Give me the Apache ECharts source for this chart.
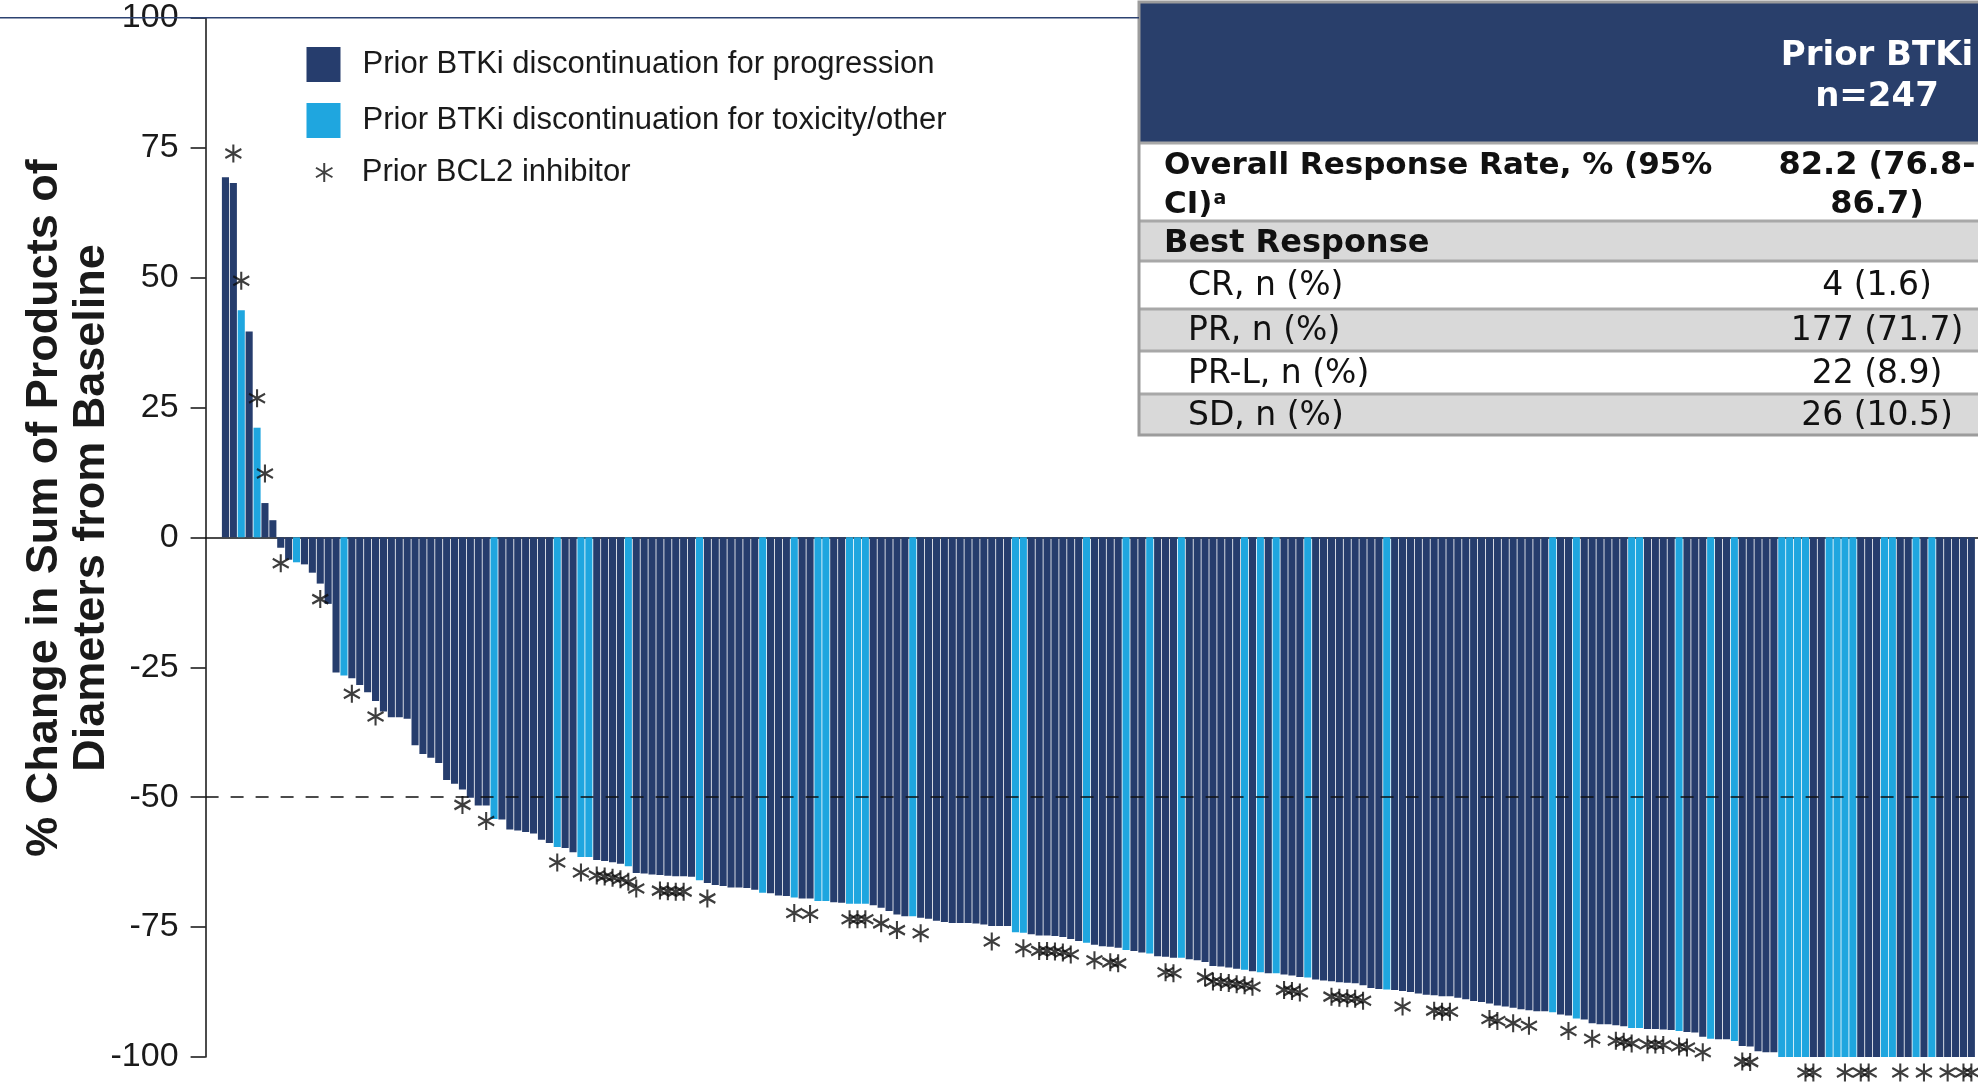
<!DOCTYPE html>
<html>
<head>
<meta charset="utf-8">
<script src="https://cdn.jsdelivr.net/npm/echarts@6/dist/echarts.min.js"></script>
<style>
html,body{margin:0;padding:0;background:#ffffff;}
#chart{width:1978px;height:1085px;}
</style>
</head>
<body>
<div id="chart"></div>
<script>
// ---- Data (one entry per patient, sorted waterfall order) ----
const changeFromBaseline = [
  69.3, 68.2, 43.7, 39.6, 21.1, 6.6, 3.3, -2.0, -4.3, -4.8,
  -5.2, -6.8, -8.9, -12.8, -26.0, -26.6, -27.1, -28.4, -29.8, -31.5,
  -33.5, -34.6, -34.6, -34.9, -40.0, -41.7, -42.4, -43.4, -46.7, -47.4,
  -48.5, -50.1, -51.6, -51.6, -54.2, -54.3, -56.2, -56.4, -56.7, -57.0,
  -58.2, -58.8, -59.6, -59.8, -60.6, -61.5, -61.5, -62.1, -62.3, -62.5,
  -62.8, -63.3, -64.6, -64.7, -64.9, -65.0, -65.1, -65.2, -65.2, -65.3,
  -66.0, -66.5, -66.9, -67.1, -67.4, -67.4, -67.5, -67.8, -68.4, -68.5,
  -68.9, -69.0, -69.3, -69.5, -69.5, -70.0, -70.0, -70.2, -70.3, -70.5,
  -70.5, -70.5, -70.8, -71.3, -71.9, -72.6, -72.9, -72.9, -73.2, -73.4,
  -73.8, -74.0, -74.2, -74.2, -74.2, -74.3, -74.5, -74.8, -74.8, -74.8,
  -76.0, -76.1, -76.4, -76.6, -76.6, -76.7, -76.9, -77.3, -77.7, -78.0,
  -78.4, -78.7, -78.8, -79.0, -79.4, -79.6, -79.9, -80.1, -80.6, -80.7,
  -80.9, -80.9, -81.2, -81.4, -81.7, -82.5, -82.6, -82.8, -83.0, -83.2,
  -83.5, -83.7, -83.9, -83.9, -84.1, -84.3, -84.6, -84.7, -85.1, -85.3,
  -85.4, -85.6, -85.7, -85.8, -86.2, -86.7, -86.9, -87.0, -87.1, -87.3,
  -87.5, -87.8, -88.0, -88.1, -88.3, -88.3, -88.6, -88.9, -89.2, -89.4,
  -89.7, -90.1, -90.3, -90.5, -90.8, -91.0, -91.2, -91.2, -91.4, -91.8,
  -92.0, -92.6, -92.8, -93.5, -93.7, -93.7, -93.9, -94.1, -94.4, -94.4,
  -94.6, -94.6, -94.7, -94.8, -95.0, -95.2, -95.3, -96.1, -96.5, -96.6,
  -96.6, -96.9, -97.9, -98.0, -98.9, -99.1, -99.1, -100, -100, -100,
  -100, -100, -100, -100, -100, -100, -100, -100, -100, -100,
  -100, -100, -100, -100, -100, -100, -100, -100, -100, -100,
  -100, -100
];

// P = discontinuation for progression, T = discontinuation for toxicity/other
const discontinuationReason = [
  'P','P','T','P','T','P','P','P','P','T',
  'P','P','P','P','P','T','P','P','P','P',
  'P','P','P','P','P','P','P','P','P','P',
  'P','P','P','P','T','P','P','P','P','P',
  'P','P','T','P','P','T','T','P','P','P',
  'P','T','P','P','P','P','P','P','P','P',
  'T','P','P','P','P','P','P','P','T','P',
  'P','P','T','P','P','T','T','P','P','T',
  'T','T','P','P','P','P','P','T','P','P',
  'P','P','P','P','P','P','P','P','P','P',
  'T','T','P','P','P','P','P','P','P','T',
  'P','P','P','P','T','P','P','T','P','P',
  'P','T','P','P','P','P','P','P','P','T',
  'P','T','P','T','P','P','P','T','P','P',
  'P','P','P','P','P','P','P','T','P','P',
  'P','P','P','P','P','P','P','P','P','P',
  'P','P','P','P','P','P','P','P','T','P',
  'P','T','P','P','P','P','P','P','T','T',
  'P','P','P','P','T','P','P','P','T','P',
  'P','T','P','P','P','P','P','T','T','T',
  'T','P','P','T','T','T','T','P','P','P',
  'T','T','P','P','T','P','T','P','P','P',
  'P','P'
];

// 1-based positions of patients with a prior BCL2 inhibitor (asterisks)
const priorBcl2Patients = [
  2, 3, 5, 6, 8, 13, 17, 20, 31, 34, 43, 46, 48, 49, 50, 51, 52, 53, 56, 57,
  58, 59, 62, 73, 75, 80, 81, 82, 84, 86, 89, 98, 102, 104, 105, 106, 107, 108, 111, 113,
  114, 120, 121, 125, 126, 127, 128, 129, 130, 131, 135, 136, 137, 141, 142, 143, 144, 145, 150, 154,
  155, 156, 161, 162, 164, 166, 171, 174, 177, 178, 179, 181, 182, 183, 185, 186, 188, 193, 194, 201,
  202, 206, 208, 209, 213, 216, 219, 221, 222
];

const yTickMin = -100, yTickMax = 100, yTickStep = 25;
const responseThreshold = -50;

const seriesNames = [
  'Prior BTKi discontinuation for progression',
  'Prior BTKi discontinuation for toxicity/other',
  'Prior BCL2 inhibitor'
];
const yAxisTitle = ['% Change in Sum of Products of', 'Diameters from Baseline'];

const tableHeader = ['Prior BTKi', 'n=247'];
const tableLabels = ['Overall Response Rate, % (95%', 'Best Response', 'CR, n (%)', 'PR, n (%)', 'PR-L, n (%)', 'SD, n (%)'];
const tableValues = [['82.2 (76.8-', '86.7)'], [], ['4 (1.6)'], ['177 (71.7)'], ['22 (8.9)'], ['26 (10.5)']];

// ---- Styles ----
const DARK = '#263d6d';
const LIGHT = '#1fa6df';
const NAVY = '#293f6b';
const ASTERISK = 'path://M10,0 L10,20 M1.34,5 L18.66,15 M1.34,15 L18.66,5';

const darkData = [], lightData = [];
changeFromBaseline.forEach(function (v, i) {
  if (discontinuationReason[i] === 'T') lightData.push([i, v]);
  else darkData.push([i, v]);
});
const bclData = priorBcl2Patients.map(function (p) {
  const v = changeFromBaseline[p - 1];
  return { value: [p - 1, v], symbolOffset: [0, v > 0 ? -29.5 : 15.5] };
});

// ---- Table (graphic) ----
const tX = 1139, tR = 1992, valCX = 1877;
const rowEdges = [3, 143, 221, 261, 309, 351, 394, 435];
const rowFills = [NAVY, '#ffffff', '#d9d9d9', '#ffffff', '#d9d9d9', '#ffffff', '#d9d9d9'];
const tableEls = [];
for (let r = 0; r < rowFills.length; r++) {
  tableEls.push({ type: 'rect', shape: { x: tX, y: rowEdges[r], width: tR - tX, height: rowEdges[r + 1] - rowEdges[r] }, style: { fill: rowFills[r] } });
}
for (let r = 1; r < rowEdges.length - 1; r++) {
  tableEls.push({ type: 'line', shape: { x1: tX, y1: rowEdges[r], x2: tR, y2: rowEdges[r] }, style: { stroke: '#a8a8a8', lineWidth: 3 } });
}
tableEls.push({ type: 'rect', shape: { x: tX, y: 2, width: tR - tX, height: 433 }, style: { fill: 'none', stroke: '#9c9c9c', lineWidth: 3 } });
const FONT = '"DejaVu Sans", Verdana, sans-serif';
tableEls.push({ type: 'text', x: valCX, y: 56, style: { text: tableHeader[0], fill: '#fff', font: 'bold 34px ' + FONT, align: 'center', verticalAlign: 'middle' } });
tableEls.push({ type: 'text', x: valCX, y: 97, style: { text: tableHeader[1], fill: '#fff', font: 'bold 34px ' + FONT, align: 'center', verticalAlign: 'middle' } });
// ORR row
tableEls.push({ type: 'text', x: 1164, y: 166, style: { text: tableLabels[0], fill: '#111', font: 'bold 31px ' + FONT, align: 'left', verticalAlign: 'middle' } });
tableEls.push({ type: 'text', x: 1164, y: 205, style: { text: '{m|CI)}{s|a}', fill: '#111', align: 'left', verticalAlign: 'middle',
  rich: { m: { font: 'bold 31px ' + FONT, fill: '#111' }, s: { font: 'bold 19px ' + FONT, fill: '#111', verticalAlign: 'top', padding: [0, 0, 12, 1] } } } });
tableEls.push({ type: 'text', x: valCX, y: 166, style: { text: tableValues[0][0], fill: '#111', font: 'bold 32px ' + FONT, align: 'center', verticalAlign: 'middle' } });
tableEls.push({ type: 'text', x: valCX, y: 205, style: { text: tableValues[0][1], fill: '#111', font: 'bold 32px ' + FONT, align: 'center', verticalAlign: 'middle' } });
// Best response
tableEls.push({ type: 'text', x: 1164, y: 244, style: { text: tableLabels[1], fill: '#111', font: 'bold 32px ' + FONT, align: 'left', verticalAlign: 'middle' } });
const rowCenters = [286, 331, 374, 416];
for (let k = 0; k < 4; k++) {
  tableEls.push({ type: 'text', x: 1188, y: rowCenters[k], style: { text: tableLabels[k + 2], fill: '#111', font: '33px ' + FONT, align: 'left', verticalAlign: 'middle' } });
  tableEls.push({ type: 'text', x: valCX, y: rowCenters[k], style: { text: tableValues[k + 2][0], fill: '#111', font: '33px ' + FONT, align: 'center', verticalAlign: 'middle' } });
}

const chart = echarts.init(document.getElementById('chart'), null, { renderer: 'canvas' });
const AX = '#111111';
const option = {
  animation: false,
  backgroundColor: '#ffffff',
  grid: { left: 205.6, right: 0, top: 17.7, bottom: 28, containLabel: false, outerBoundsMode: 'none' },
  xAxis: {
    type: 'value', min: -2.513, max: 221.84,
    axisLine: { show: true, onZero: true, lineStyle: { color: AX, width: 1.5 } },
    axisTick: { show: false }, axisLabel: { show: false }, splitLine: { show: false }
  },
  yAxis: {
    type: 'value', min: yTickMin, max: yTickMax, interval: yTickStep,
    axisLine: { show: true, onZero: false, lineStyle: { color: AX, width: 1.5 } },
    axisTick: { show: true, length: 15, lineStyle: { color: AX, width: 1.5 } },
    axisLabel: { fontSize: 34, fontFamily: '"Liberation Sans", Arial, sans-serif', color: '#1a1a1a', margin: 27 },
    splitLine: { show: false }
  },
  legend: [
    {
      data: [seriesNames[0], seriesNames[1]], orient: 'vertical', left: 301.5, top: 42,
      itemWidth: 34, itemHeight: 35, itemGap: 21, icon: 'rect', selectedMode: false,
      textStyle: { fontSize: 31, fontFamily: '"Liberation Sans", Arial, sans-serif', color: '#1a1a1a', padding: [0, 0, 0, 17] }
    },
    {
      data: [seriesNames[2]], orient: 'vertical', left: 310, top: 152,
      itemWidth: 17, itemHeight: 19, icon: ASTERISK, selectedMode: false,
      itemStyle: { color: 'transparent', borderColor: '#111', borderWidth: 2 },
      textStyle: { fontSize: 31, fontFamily: '"Liberation Sans", Arial, sans-serif', color: '#1a1a1a', padding: [0, 0, 0, 24] }
    }
  ],
  series: [
    { name: seriesNames[0], type: 'bar', barWidth: 7.1, barGap: '-100%', data: darkData, itemStyle: { color: DARK } },
    { name: seriesNames[1], type: 'bar', barWidth: 7.1, barGap: '-100%', data: lightData, itemStyle: { color: LIGHT } },
    {
      name: seriesNames[2], type: 'scatter', data: bclData, symbol: ASTERISK, symbolSize: [16, 18], clip: false, z: 5,
      itemStyle: { color: 'transparent', borderColor: '#0d0d0d', borderWidth: 2.2 },
      markLine: {
        silent: true, symbol: ['none', 'none'], label: { show: false },
        lineStyle: { type: [13, 12], color: '#111', width: 1.6 },
        data: [{ yAxis: responseThreshold }]
      }
    }
  ],
  graphic: [
    { type: 'line', z: 1, shape: { x1: 0, y1: 17.7, x2: tX, y2: 17.7 }, style: { stroke: '#2c4271', lineWidth: 1.6 } },
    {
      type: 'text', x: 68, y: 508, rotation: Math.PI / 2, z: 10,
      style: { text: yAxisTitle.join('\n'), font: 'bold 45px "Liberation Sans", Arial, sans-serif', fill: '#1a1a1a',
        align: 'center', verticalAlign: 'middle', lineHeight: 47 }
    },
    { type: 'group', z: 100, children: tableEls }
  ]
};
chart.setOption(option);
</script>
</body>
</html>
